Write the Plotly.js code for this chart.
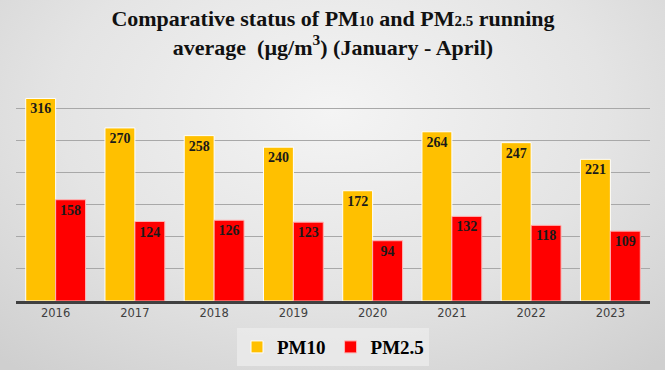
<!DOCTYPE html>
<html>
<head>
<meta charset="utf-8">
<script src="https://cdn.plot.ly/plotly-3.0.1.min.js"></script>
<style>
html,body{margin:0;padding:0;}
body{width:665px;height:370px;overflow:hidden;
background: radial-gradient(ellipse 75% 90% at 50% 30%, #f4f4f4 0%, #e4e4e4 55%, #cfcfcf 100%);}
#chart{width:665px;height:370px;}
</style>
</head>
<body>
<div id="chart"></div>
<script>
var years = ["2016","2017","2018","2019","2020","2021","2022","2023"];
var pm10 = [316,270,258,240,172,264,247,221];
var pm25 = [158,124,126,123,94,132,118,109];
var yTicks = [0,50,100,150,200,250,300,350];

var labelFont = {family:"Liberation Serif, DejaVu Serif, serif", size:14, color:"#1a1a1a", weight:"bold"};

var traces = [
  {type:"bar", name:"PM10", x:years, y:pm10, text:pm10.map(String),
   textposition:"inside", insidetextanchor:"end", textangle:0,
   textfont:labelFont,
   marker:{color:"#FFC000", line:{color:"#ffffff", width:1}}, hoverinfo:"none"},
  {type:"bar", name:"PM2.5", x:years, y:pm25, text:pm25.map(String),
   textposition:"inside", insidetextanchor:"end", textangle:0,
   textfont:labelFont,
   marker:{color:"#FF0000", line:{color:"#ffb3b3", width:1}}, hoverinfo:"none"}
];

var layout = {
  width:665, height:370,
  paper_bgcolor:"rgba(0,0,0,0)", plot_bgcolor:"rgba(0,0,0,0)",
  margin:{l:16, r:15, t:76, b:69, autoexpand:false},
  title:{text:"<b>Comparative status of PM<span style='font-size:15px'>10</span> and PM<span style='font-size:15px'>2.5</span> running<br>average  (µg/m<sup>3</sup>) (January - April)</b>",
    font:{family:"Liberation Serif, DejaVu Serif, serif", size:22, color:"#111111"},
    x:0.5, xanchor:"center", xref:"paper", yref:"container", y:0.93, yanchor:"middle"},
  barmode:"group", bargap:0.245, bargroupgap:0,
  xaxis:{type:"category", showline:true, linecolor:"#404040", linewidth:2.5,
    ticks:"", tickfont:{family:"DejaVu Sans, Verdana, sans-serif", size:11.5, color:"#404040"},
    showgrid:false, zeroline:false, automargin:false},
  yaxis:{range:[0,351], tickvals:yTicks, showticklabels:false, showgrid:true,
    gridcolor:"#a8a8a8", gridwidth:1, zeroline:false, showline:false, fixedrange:true, automargin:false},
  showlegend:true,
  legend:{orientation:"h", x:0.5, xanchor:"center", yref:"container", y:0.062, yanchor:"middle",
    bgcolor:"rgba(235,235,235,0.8)", font:{family:"Liberation Serif, DejaVu Serif, serif", size:19, color:"#000000", weight:"bold"},
    itemwidth:20, traceorder:"normal"}
};

Plotly.newPlot("chart", traces, layout, {displayModeBar:false, staticPlot:true});
</script>
</body>
</html>
